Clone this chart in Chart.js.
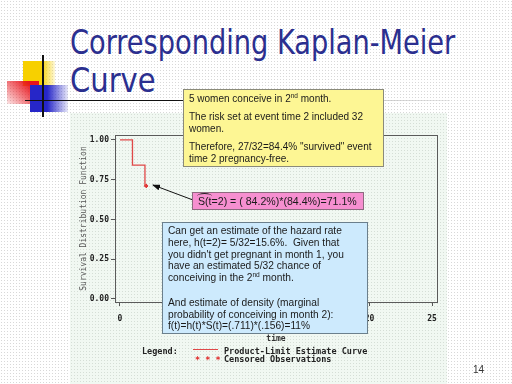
<!DOCTYPE html>
<html>
<head>
<meta charset="utf-8">
<script src="https://cdn.jsdelivr.net/npm/chart.js@4.4.0/dist/chart.umd.min.js"></script>
<style>
  html, body { margin: 0; padding: 0; }
  body {
    width: 512px; height: 384px; position: relative; overflow: hidden;
    background-color: #fff;
    background-image: radial-gradient(#d8d8d8 0.6px, transparent 0.7px);
    background-size: 3px 3px;
    font-family: "Liberation Sans", Arial, sans-serif;
  }
  .abs { position: absolute; }
  #plotbg {
    left: 70px; top: 113px; width: 377px; height: 271px;
    background-color: #f1f8f2;
    background-image: radial-gradient(#d5ded6 0.6px, transparent 0.7px);
    background-size: 3px 3px;
  }
  #chart { left: 0; top: 0; }
  .title { color: #2b2f8f; font-family: "DejaVu Sans Condensed", "DejaVu Sans", sans-serif; font-size: 33px; white-space: nowrap; transform-origin: 0 0; line-height: 1; }
  .note { box-sizing: border-box; border: 1px solid #8a8a7a; color: #1a1a1a; font-size: 10px; white-space: nowrap; }
  .note div { position: absolute; left: 5px; }
  #yellow { left: 183px; top: 89px; width: 201px; height: 78px; background: #fdf694; }
  #pink { left: 192px; top: 192px; width: 172px; height: 18px; background: #f68fd0; border-color: #8d6a7f; font-size: 10.6px; }
  #blue { left: 162px; top: 222px; width: 206px; height: 112px; background: #cdeafd; border-color: #6b7f8c; font-size: 10.2px; }
  .mono { font-family: "DejaVu Sans Mono", monospace; font-weight: bold; font-size: 8.5px; color: #222; white-space: nowrap; }
  sup { font-size: 0.65em; line-height: 0; }
</style>
</head>
<body>
<div id="plotbg" class="abs"></div>

<!-- slide decoration -->
<div class="abs" style="left:23px;top:61px;width:32px;height:25px;background:linear-gradient(90deg,#f7d000 55%,rgba(247,208,0,0.15))"></div>
<div class="abs" style="left:7px;top:81px;width:32px;height:23px;background:linear-gradient(225deg,#e8141c 20%,rgba(232,20,28,0.1))"></div>
<div class="abs" style="left:30px;top:85px;width:38px;height:27px;background:linear-gradient(90deg,#2626c8 45%,rgba(38,38,200,0.1))"></div>
<div class="abs" style="left:42px;top:55px;width:1.5px;height:62px;background:#111"></div>
<div class="abs" style="left:25px;top:99.5px;width:425px;height:1.5px;background:linear-gradient(90deg,#111 35%,#bbb 70%,rgba(200,200,200,0.4))"></div>

<div class="abs title" id="t1" style="left:70px;top:26px">Corresponding Kaplan-Meier</div>
<div class="abs title" id="t2" style="left:70px;top:64px">Curve</div>

<canvas id="chart" class="abs" width="512" height="384"></canvas>

<div class="abs mono" style="left:142px;top:346px">Legend:</div>
<div class="abs" style="left:193px;top:349px;width:25px;height:1.2px;background:#e04848"></div>
<div class="abs mono" style="left:224px;top:346px">Product-Limit Estimate Curve</div>
<div class="abs mono" style="left:195px;top:355px;color:#e02828">* * *</div>
<div class="abs mono" style="left:224px;top:354px">Censored Observations</div>

<svg class="abs" style="left:0;top:0" width="512" height="384">
  <defs>
    <marker id="ah" markerWidth="8" markerHeight="6" refX="7" refY="3" orient="auto" markerUnits="userSpaceOnUse">
      <path d="M0,0 L8,3 L0,6 z" fill="#111"/>
    </marker>
  </defs>
  <line x1="193" y1="200" x2="153" y2="185" stroke="#111" stroke-width="1" marker-end="url(#ah)"/>
</svg>

<div class="abs note" id="yellow">
  <div style="top:3px">5 women conceive in 2<sup>nd</sup> month.</div>
  <div style="top:21px">The risk set at event time 2 included 32</div>
  <div style="top:33px">women.</div>
  <div style="top:51px">Therefore, 27/32=84.4% "survived" event</div>
  <div style="top:63px">time 2 pregnancy-free.</div>
</div>

<div class="abs note" id="pink">
  <div style="top:2px"><span style="position:relative">S<span style="position:absolute;left:-1px;top:-2px;width:15px;height:5px;border-top:1px solid #222;border-radius:50% 50% 0 0"></span></span>(t=2) = ( 84.2%)*(84.4%)=71.1%</div>
</div>

<div class="abs note" id="blue">
  <div style="top:2px">Can get an estimate of the hazard rate</div>
  <div style="top:14px">here, h(t=2)= 5/32=15.6%.&nbsp; Given that</div>
  <div style="top:25.5px">you didn't get pregnant in month 1, you</div>
  <div style="top:37px">have an estimated 5/32 chance of</div>
  <div style="top:49px">conceiving in the 2<sup>nd</sup> month.</div>
  <div style="top:74px">And estimate of density (marginal</div>
  <div style="top:85.5px">probability of conceiving in month 2):</div>
  <div style="top:97px">f(t)=h(t)*S(t)=(.711)*(.156)=11%</div>
</div>

<div class="abs" style="left:473px;top:364px;font-size:10px;color:#333">14</div>

<script>
// Kaplan-Meier estimate (visible part of the curve)
const times = [0, 1, 2, 2.25];
const survival = [1.0, 0.842, 0.711, 0.711];
const censoredTimes = [2.1];
const censoredSurvival = [0.711];
const xTicks = [0, 5, 10, 15, 20, 25];
const yTicks = [0.00, 0.25, 0.50, 0.75, 1.00];

// fit title widths like the original slide font
function fitWidth(id, w) {
  const el = document.getElementById(id);
  el.style.transform = 'scaleX(' + (w / el.offsetWidth) + ')';
}
fitWidth('t1', 385);
fitWidth('t2', 86);

const frame = {
  id: 'frame',
  afterDraw(chart) {
    const a = chart.chartArea;
    const ctx = chart.ctx;
    ctx.save();
    ctx.strokeStyle = '#5a5a5a';
    ctx.lineWidth = 1;
    ctx.strokeRect(Math.round(a.left) + 0.5, Math.round(a.top) + 0.5, Math.round(a.right - a.left), Math.round(a.bottom - a.top));
    ctx.restore();
  }
};

const monoFont = { family: 'DejaVu Sans Mono', size: 8, weight: 'bold' };

const ctx = document.getElementById('chart').getContext('2d');
const kmChart = new Chart(ctx, {
  type: 'line',
  data: {
    datasets: [
      {
        label: 'Product-Limit Estimate Curve',
        data: times.map((t, i) => ({ x: t, y: survival[i] })),
        borderColor: '#e04848',
        borderWidth: 1.3,
        stepped: true,
        pointRadius: 0,
        fill: false
      },
      {
        label: 'Censored Observations',
        type: 'scatter',
        data: censoredTimes.map((t, i) => ({ x: t, y: censoredSurvival[i] })),
        borderColor: '#e02020',
        backgroundColor: '#e02020',
        pointStyle: 'rectRot',
        pointRadius: 1.8,
        borderWidth: 1
      }
    ]
  },
  options: {
    responsive: false,
    animation: false,
    layout: { padding: { left: 78, top: 135, right: 75, bottom: 40 } },
    plugins: { legend: { display: false }, tooltip: { enabled: false } },
    scales: {
      x: {
        type: 'linear',
        min: -0.4,
        max: 25.4,
        afterBuildTicks: s => { s.ticks = xTicks.map(v => ({ value: v })); },
        afterFit: s => { s.height = 42; },
        ticks: { font: monoFont, color: '#222', padding: 8, maxRotation: 0 },
        grid: { drawOnChartArea: false, tickColor: '#555', tickLength: 4 },
        border: { color: '#5a5a5a' },
        title: { display: true, text: 'time', font: monoFont, color: '#333', padding: { top: 2, bottom: 0 } }
      },
      y: {
        min: -0.019,
        max: 1.031,
        afterBuildTicks: s => { s.ticks = yTicks.map(v => ({ value: v })); },
        afterFit: s => { s.width = 37; },
        ticks: { font: monoFont, color: '#222', padding: 2, callback: v => v.toFixed(2) },
        grid: { drawOnChartArea: false, tickColor: '#555', tickLength: 4 },
        border: { color: '#5a5a5a' },
        title: { display: true, text: 'Survival Distribution Function', font: { family: 'DejaVu Sans Mono', size: 8 }, color: '#555', padding: 1 }
      }
    }
  },
  plugins: [frame]
});
</script>
</body>
</html>
